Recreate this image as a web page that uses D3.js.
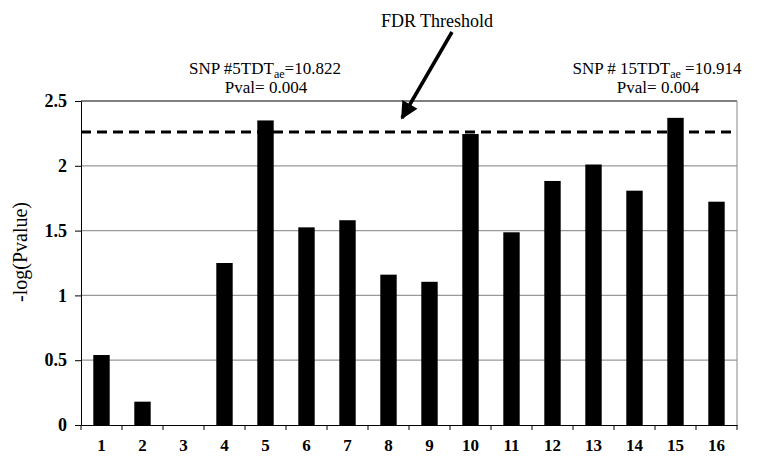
<!DOCTYPE html>
<html>
<head>
<meta charset="utf-8">
<script src="https://cdn.jsdelivr.net/npm/d3@7"></script>
<style>
    body { margin: 0; background: #fff; }
</style>
</head>
<body>
<div id="chart"></div>
<script>
// SNP numbers and their -log(Pvalue)
const snps = ["1", "2", "3", "4", "5", "6", "7", "8", "9", "10", "11", "12", "13", "14", "15", "16"];
const logP = [0.54, 0.18, 0, 1.25, 2.35, 1.525, 1.58, 1.16, 1.105, 2.245, 1.487, 1.883, 2.01, 1.808, 2.37, 1.723];
const yTicks = [0, 0.5, 1, 1.5, 2, 2.5];
const fdrThreshold = 2.26;

// annotations above the two significant SNPs
const notes = [
    { snp: "5", main: "SNP #5TDT", after: "=10.822", pval: "Pval= 0.004" },
    { snp: "15", main: "SNP # 15TDT", after: " =10.914", pval: "Pval= 0.004" }
];

const FONT = "'Liberation Serif', 'Times New Roman', Times, 'DejaVu Serif', serif";

const MARGIN = { LEFT: 81, RIGHT: 20, TOP: 101, BOTTOM: 34 };
const WIDTH = 757 - MARGIN.LEFT - MARGIN.RIGHT;
const HEIGHT = 459 - MARGIN.TOP - MARGIN.BOTTOM;

const svg = d3.select("#chart").append("svg")
    .attr("width", 757)
    .attr("height", 459)
    .attr("font-family", FONT);

const g = svg.append("g")
    .attr("transform", `translate(${MARGIN.LEFT}, ${MARGIN.TOP})`);

const x = d3.scaleBand().domain(snps).range([0, WIDTH]).paddingInner(0.6).paddingOuter(0.3);
const y = d3.scaleLinear().domain([0, 2.5]).range([HEIGHT, 0]);

// gridlines
g.selectAll(".grid")
    .data(yTicks.filter(d => d > 0 && d < 2.5))
    .join("line")
    .attr("class", "grid")
    .attr("x1", 0).attr("x2", WIDTH)
    .attr("y1", d => y(d)).attr("y2", d => y(d))
    .attr("stroke", "#999")
    .attr("stroke-width", 1.2);

// top and right border
g.append("line")
    .attr("x1", 0).attr("x2", WIDTH)
    .attr("y1", y(2.5)).attr("y2", y(2.5))
    .attr("stroke", "#000");
g.append("line")
    .attr("x1", WIDTH).attr("x2", WIDTH)
    .attr("y1", y(2.5)).attr("y2", HEIGHT)
    .attr("stroke", "#888");

// bars
g.selectAll(".bar")
    .data(logP)
    .join("rect")
    .attr("class", "bar")
    .attr("x", (d, i) => x(snps[i]))
    .attr("y", d => y(d))
    .attr("width", x.bandwidth())
    .attr("height", d => HEIGHT - y(d))
    .attr("fill", "#000");

// FDR threshold line
g.append("line")
    .attr("x1", 0).attr("x2", WIDTH)
    .attr("y1", y(fdrThreshold)).attr("y2", y(fdrThreshold))
    .attr("stroke", "#000")
    .attr("stroke-width", 3)
    .attr("stroke-dasharray", "10,6");

// y axis
const yAxis = g.append("g")
    .call(d3.axisLeft(y).tickValues(yTicks).tickSize(6).tickPadding(8).tickFormat(d => d))
    .attr("font-family", FONT);
yAxis.select(".domain").attr("stroke", "#000");
yAxis.selectAll("text")
    .style("font-family", FONT)
    .style("font-size", "18px")
    .style("font-weight", "bold")
    .attr("fill", "#000");

// x axis: labels centred on bars, ticks between categories
const xAxis = g.append("g")
    .attr("transform", `translate(0, ${HEIGHT})`)
    .call(d3.axisBottom(x).tickSize(0).tickPadding(14))
    .attr("font-family", FONT);
xAxis.select(".domain").attr("stroke", "#000");
xAxis.selectAll("text")
    .style("font-family", FONT)
    .style("font-size", "17px")
    .style("font-weight", "bold")
    .attr("fill", "#000");

const boundaries = d3.range(snps.length + 1).map(i => i * x.step());
xAxis.selectAll(".sep")
    .data(boundaries)
    .join("line")
    .attr("class", "sep")
    .attr("x1", d => d).attr("x2", d => d)
    .attr("y1", 0).attr("y2", 5)
    .attr("stroke", "#000");

// y axis label
svg.append("text")
    .attr("transform", "translate(27, 252) rotate(-90)")
    .attr("text-anchor", "middle")
    .style("font-family", FONT)
    .style("font-size", "20px")
    .text("-log(Pvalue)");

// annotations
const noteCenters = [265, 657];
notes.forEach((n, i) => {
    const t = svg.append("text")
        .attr("x", noteCenters[i])
        .attr("y", 74)
        .attr("text-anchor", "middle")
        .style("font-family", FONT)
        .style("font-size", "17px");
    t.append("tspan").text(n.main);
    t.append("tspan").attr("dy", 4).style("font-size", "12px").text("ae");
    t.append("tspan").attr("dy", -4).text(n.after);

    svg.append("text")
        .attr("x", noteCenters[i] + 1)
        .attr("y", 93)
        .attr("text-anchor", "middle")
        .style("font-family", FONT)
        .style("font-size", "17px")
        .text(n.pval);
});

// FDR label and arrow
svg.append("text")
    .attr("x", 437)
    .attr("y", 27)
    .attr("text-anchor", "middle")
    .style("font-family", FONT)
    .style("font-size", "18px")
    .text("FDR Threshold");

svg.append("defs").append("marker")
    .attr("id", "head")
    .attr("viewBox", "0 0 10 10")
    .attr("refX", 9).attr("refY", 5)
    .attr("markerWidth", 5.5).attr("markerHeight", 5)
    .attr("markerUnits", "strokeWidth")
    .attr("orient", "auto")
    .append("path")
    .attr("d", "M0,0 L10,5 L0,10 Z")
    .attr("fill", "#000");

svg.append("line")
    .attr("x1", 452).attr("y1", 32)
    .attr("x2", 402).attr("y2", 118)
    .attr("stroke", "#000")
    .attr("stroke-width", 3.5)
    .attr("marker-end", "url(#head)");
</script>
</body>
</html>
